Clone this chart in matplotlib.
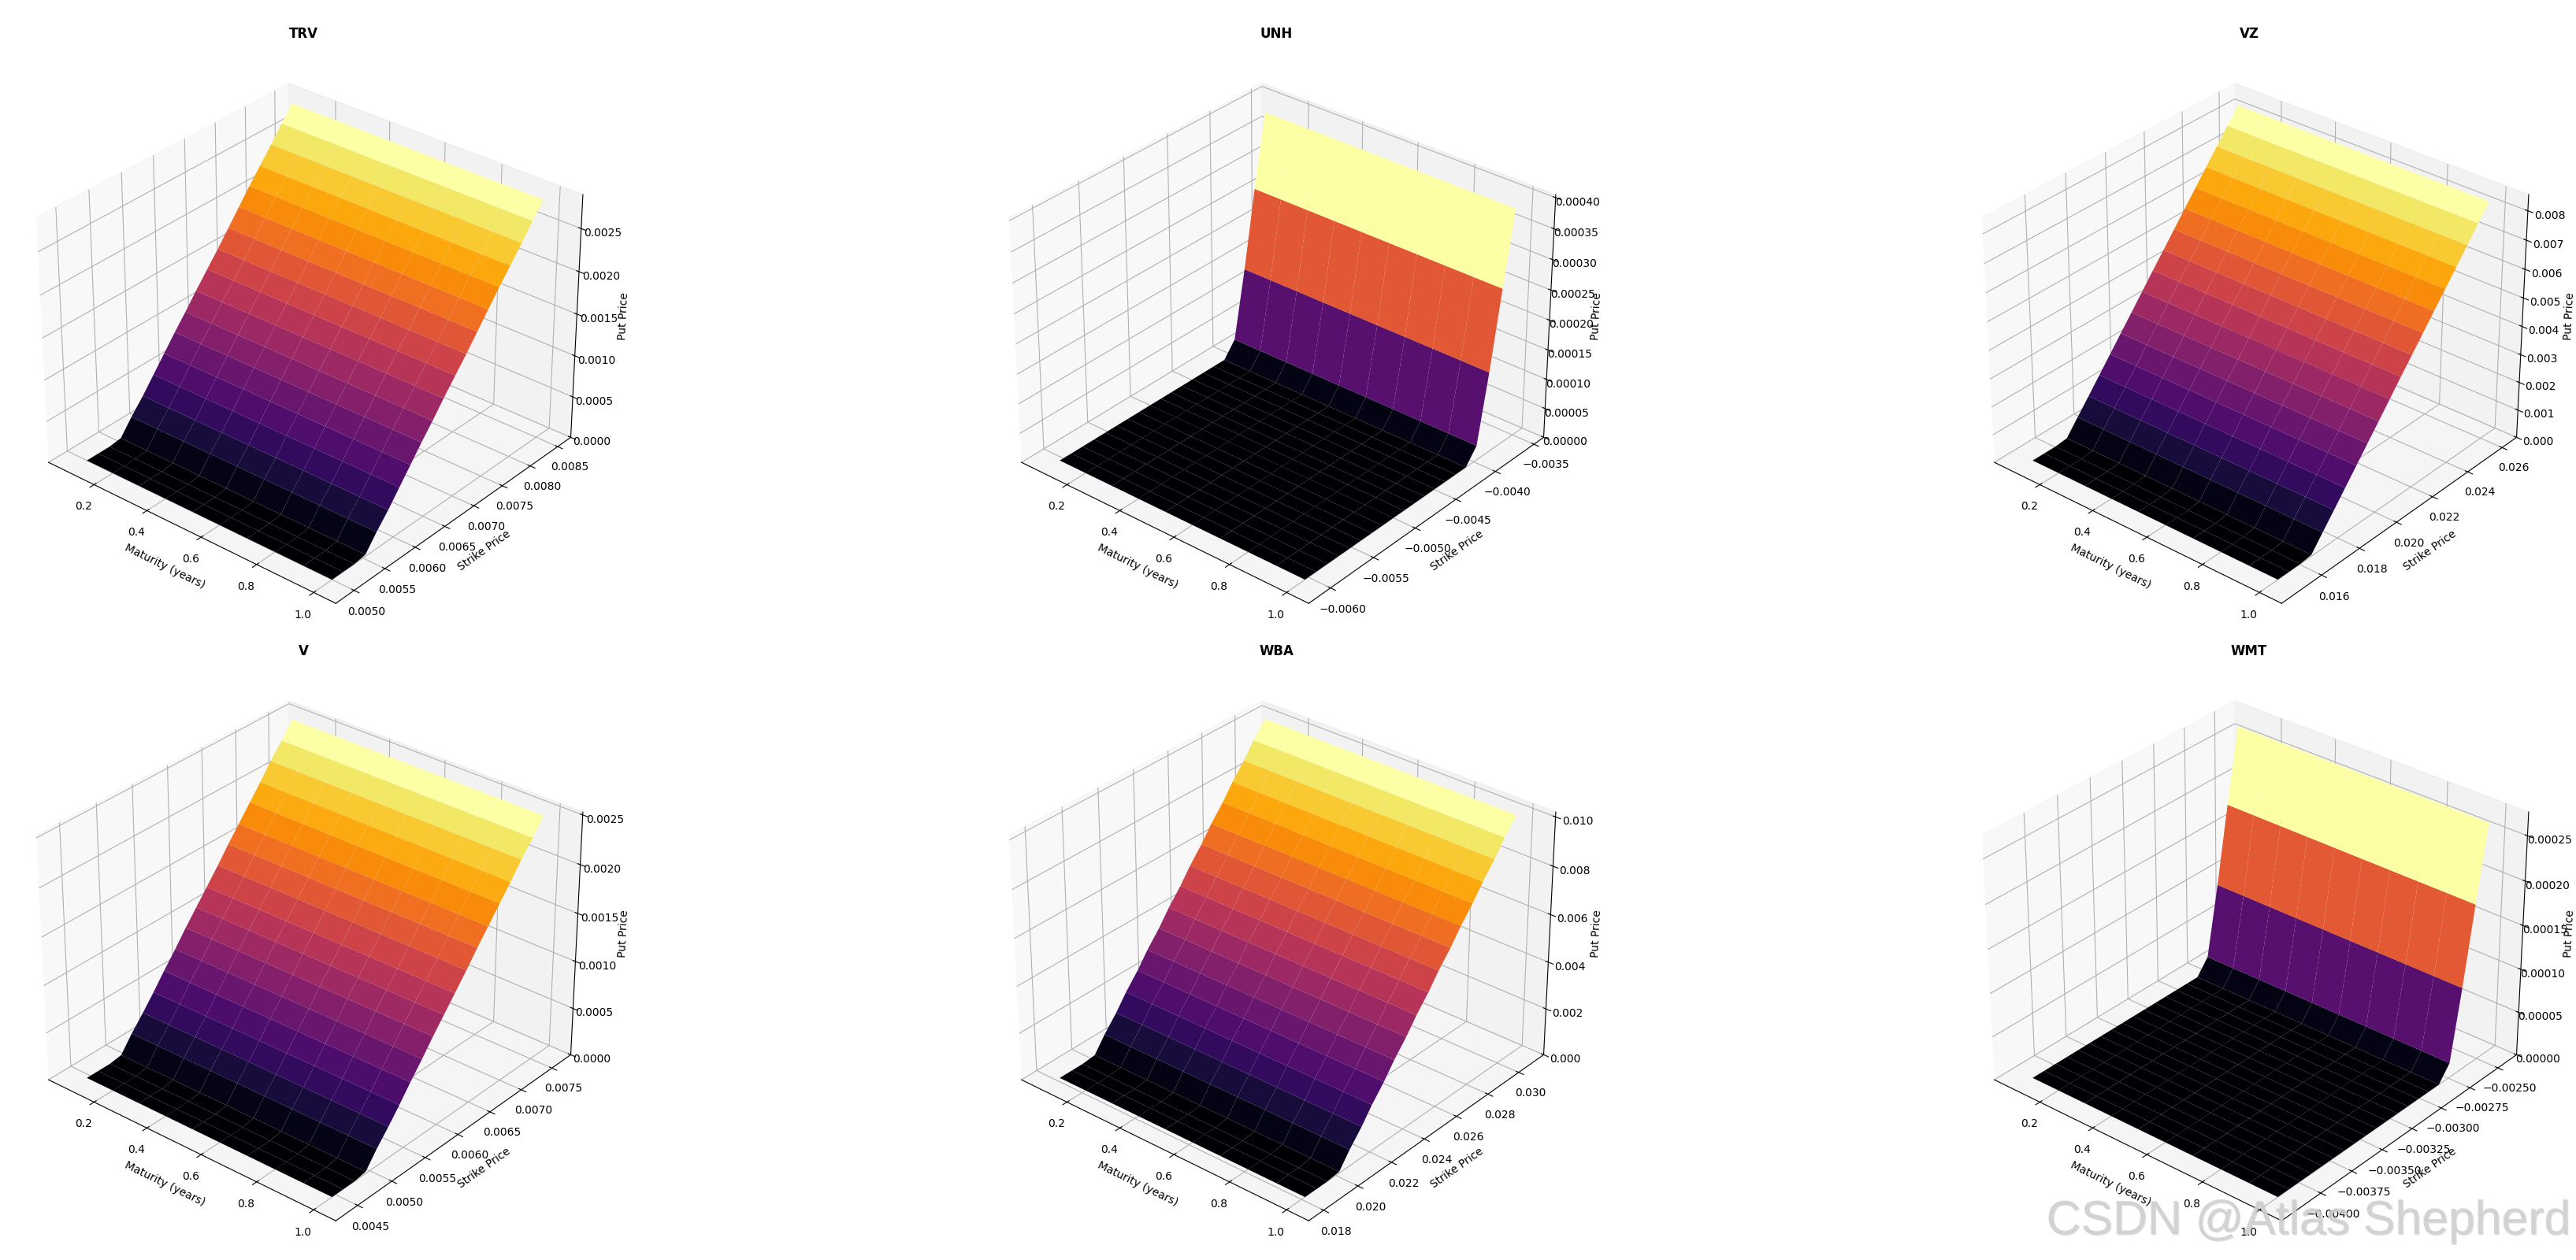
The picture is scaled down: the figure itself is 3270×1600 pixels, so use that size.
import numpy as np
import matplotlib
matplotlib.use("Agg")
import matplotlib.pyplot as plt
import matplotlib.patheffects as pe

# maturities on the x axis (years)
maturity = [0.1, 0.2, 0.3, 0.4, 0.5, 0.6, 0.7, 0.8, 0.9, 1.0]

tickers = ["TRV", "UNH", "VZ", "V", "WBA", "WMT"]

# strike grid per ticker
strike_trv = [0.00500, 0.00518, 0.00536, 0.00554, 0.00572, 0.00591, 0.00609, 0.00627, 0.00645, 0.00663,
              0.00681, 0.00700, 0.00718, 0.00736, 0.00754, 0.00772, 0.00790, 0.00809, 0.00827, 0.00845]
strike_unh = [-0.00604, -0.00591, -0.00578, -0.00565, -0.00552, -0.00539, -0.00526, -0.00513, -0.00500, -0.00487,
              -0.00475, -0.00462, -0.00449, -0.00436, -0.00423, -0.00410, -0.00397, -0.00384, -0.00371, -0.00358]
strike_vz = [0.01488, 0.01546, 0.01604, 0.01662, 0.01720, 0.01779, 0.01837, 0.01895, 0.01953, 0.02011,
             0.02069, 0.02127, 0.02185, 0.02243, 0.02301, 0.02360, 0.02418, 0.02476, 0.02534, 0.02592]
strike_v = [0.00445, 0.00461, 0.00478, 0.00494, 0.00510, 0.00527, 0.00543, 0.00559, 0.00576, 0.00592,
            0.00608, 0.00624, 0.00641, 0.00657, 0.00673, 0.00690, 0.00706, 0.00722, 0.00739, 0.00755]
strike_wba = [0.0182, 0.0189, 0.0195, 0.0202, 0.0208, 0.0215, 0.0221, 0.0228, 0.0234, 0.0241,
              0.0247, 0.0254, 0.0260, 0.0267, 0.0273, 0.0280, 0.0286, 0.0293, 0.0299, 0.0306]
strike_wmt = [-0.004165, -0.004076, -0.003987, -0.003898, -0.003809, -0.003720, -0.003631, -0.003543, -0.003454, -0.003365,
              -0.003276, -0.003187, -0.003098, -0.003009, -0.002920, -0.002831, -0.002742, -0.002653, -0.002564, -0.002475]

# put price per strike, nearly flat in maturity
price_trv = [0, 0, 0, 0.00002, 0.0002, 0.00037, 0.00055, 0.00073, 0.00091, 0.00108,
             0.00126, 0.00144, 0.00161, 0.00179, 0.00197, 0.00215, 0.00232, 0.0025, 0.00268, 0.00285]
price_unh = [0, 0, 0, 0, 0, 0, 0, 0, 0, 0,
             0, 0, 0, 0, 0, 0, 0.000025, 0.000138, 0.000266, 0.000385]
price_vz = [0, 0, 0, 0.00005, 0.00057, 0.00109, 0.00161, 0.00213, 0.00265, 0.00317,
            0.00369, 0.00422, 0.00473, 0.00525, 0.00577, 0.00629, 0.00681, 0.00733, 0.00785, 0.00837]
price_v = [0, 0, 0, 0.00002, 0.00018, 0.00033, 0.00048, 0.00064, 0.0008, 0.00096,
           0.00111, 0.00126, 0.00142, 0.00158, 0.00173, 0.00189, 0.00204, 0.0022, 0.00235, 0.00251]
price_wba = [0, 0, 0, 0.00006, 0.00069, 0.00132, 0.00195, 0.00258, 0.00321, 0.00384,
             0.00447, 0.0051, 0.00573, 0.00636, 0.00699, 0.00762, 0.00825, 0.00888, 0.00951, 0.01014]
price_wmt = [0, 0, 0, 0, 0, 0, 0, 0, 0, 0,
             0, 0, 0, 0, 0, 0, 0.000017, 0.000096, 0.000183, 0.000266]

# top of the price axis
z_tops = [0.00289, 0.000405, 0.00855, 0.00253, 0.0102, 0.000276]

# strike ticks as printed, where the default locator picks others
vz_strike_ticks = [0.016, 0.018, 0.020, 0.022, 0.024, 0.026]
wmt_strike_ticks = [-0.00400, -0.00375, -0.00350, -0.00325, -0.00300, -0.00275, -0.00250]

strikes = [strike_trv, strike_unh, strike_vz, strike_v, strike_wba, strike_wmt]
prices = [price_trv, price_unh, price_vz, price_v, price_wba, price_wmt]

fig = plt.figure(figsize=(32.7, 16), dpi=100)

SIDE = 748
for i in range(6):
    row, col = i // 3, i % 3
    cx = (385 + col * 1235) / 3270
    cy = 430 + row * 784
    ax = fig.add_axes([cx - SIDE / 3270 / 2, 1 - (cy + SIDE / 2) / 1600, SIDE / 3270, SIDE / 1600], projection="3d")
    ax.set_xmargin(0.0615)
    ax.set_ymargin(0.0615)

    T, K = np.meshgrid(maturity, strikes[i])
    Z = np.tile(np.array(prices[i])[:, None], (1, len(maturity)))
    ax.plot_surface(T, K, Z, cmap="inferno")
    ax.set_title(tickers[i], fontweight="bold", fontsize=12, pad=6)
    ax.set_xlabel("Maturity (years)")
    ax.set_ylabel("Strike Price")
    ax.set_zlabel("Put Price")
    ax.set_zlim(0, z_tops[i])
    if tickers[i] == "WMT":
        ax.set_yticks(wmt_strike_ticks)
    if tickers[i] == "VZ":
        ax.set_yticks(vz_strike_ticks)
    ax.view_init(elev=31, azim=-50)

txt = fig.text(3263 / 3270, 1 - 1567 / 1600, "CSDN @Atlas Shepherd", ha="right", va="baseline",
               fontsize=43.7, family="Liberation Sans", color="#d0d0d0", alpha=0.6)
txt.set_path_effects([pe.withSimplePatchShadow(offset=(1, -1), shadow_rgbFace="#aaaaaa", alpha=0.4), pe.Normal()])

fig.savefig("out.png", dpi=100)
